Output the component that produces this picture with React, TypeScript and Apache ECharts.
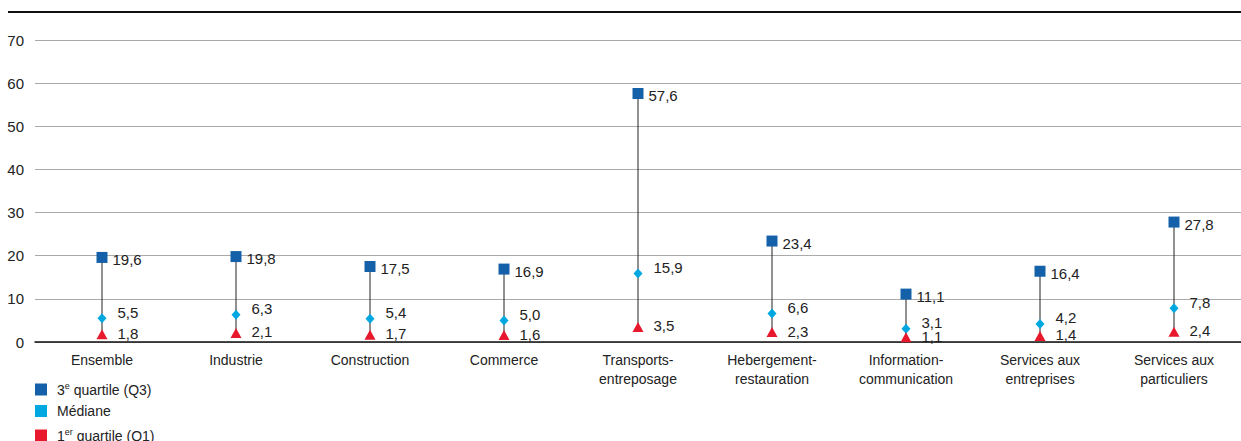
import React, { useEffect, useRef } from "react";
import * as echarts from "echarts";

const categories = [
  "Ensemble",
  "Industrie",
  "Construction",
  "Commerce",
  "Transports-\nentreposage",
  "Hebergement-\nrestauration",
  "Information-\ncommunication",
  "Services aux\nentreprises",
  "Services aux\nparticuliers",
];
const q3Values = [19.6, 19.8, 17.5, 16.9, 57.6, 23.4, 11.1, 16.4, 27.8];
const medianValues = [5.5, 6.3, 5.4, 5.0, 15.9, 6.6, 3.1, 4.2, 7.8];
const q1Values = [1.8, 2.1, 1.7, 1.6, 3.5, 2.3, 1.1, 1.4, 2.4];
const yTicks = [0, 10, 20, 30, 40, 50, 60, 70];

const seriesNames = ["3e quartile (Q3)", "Médiane", "1er quartile (Q1)"];

const FONT = "'Liberation Sans', Arial, sans-serif";
const fmt = (v: number) => v.toFixed(1).replace(".", ",");

export default function App() {
  const ref = useRef<HTMLDivElement>(null);
  useEffect(() => {
    if (!ref.current) return;
    const chart = echarts.init(ref.current, undefined, { renderer: "svg" });
    const labelBase = {
      show: true,
      position: "right" as const,
      fontSize: 15,
      fontFamily: FONT,
      color: "#222",
      formatter: (p: any) => fmt(p.value),
    };
    const legendTextStyle = {
      fontSize: 14,
      fontFamily: FONT,
      color: "#222",
      padding: [0, 0, 0, 5],
      rich: {
        sup: { fontSize: 9, fontFamily: FONT, color: "#222", padding: [0, 0, 8, 0] },
      },
    };
    const legendFormatter = (name: string) => {
      if (name === seriesNames[0]) return "3{sup|e} quartile (Q3)";
      if (name === seriesNames[2]) return "1{sup|er} quartile (Q1)";
      return name;
    };
    const legendTops = [381, 404, 427];
    chart.setOption({
      animation: false,
      textStyle: { fontFamily: FONT },
      grid: { left: 35, right: -2, top: 40, bottom: 99, containLabel: false },
      legend: seriesNames.map((n, i) => ({
        orient: "vertical",
        left: 35,
        top: legendTops[i],
        padding: 0,
        itemWidth: 12,
        itemHeight: 12,
        icon: "rect",
        selectedMode: false,
        data: [n],
        formatter: legendFormatter,
        textStyle: legendTextStyle,
      })),
      graphic: [
        {
          type: "line",
          shape: { x1: 8, y1: 12, x2: 1241, y2: 12 },
          style: { stroke: "#111", lineWidth: 2 },
        },
      ],
      xAxis: {
        type: "category",
        data: categories,
        axisLine: { show: true, lineStyle: { color: "#111", width: 1.5 } },
        axisTick: { show: false },
        axisLabel: {
          fontSize: 14,
          fontFamily: FONT,
          color: "#222",
          lineHeight: 19,
          margin: 8,
          interval: 0,
        },
      },
      yAxis: {
        type: "value",
        min: yTicks[0],
        max: yTicks[yTicks.length - 1],
        interval: 10,
        axisLine: { show: false },
        axisTick: { show: false },
        axisLabel: { fontSize: 15, fontFamily: FONT, color: "#222", margin: 11 },
        splitLine: { lineStyle: { color: "#aaa", width: 1 } },
      },
      series: [
        {
          type: "custom",
          name: "range",
          z: 1,
          silent: true,
          renderItem: (params: any, api: any) => {
            const x = api.value(0);
            const p1 = api.coord([x, api.value(1)]);
            const p2 = api.coord([x, api.value(2)]);
            return {
              type: "line",
              shape: { x1: p1[0], y1: p1[1], x2: p2[0], y2: p2[1] },
              style: { stroke: "#222", lineWidth: 1 },
            };
          },
          encode: { x: 0, y: [1, 2] },
          data: categories.map((_, i) => [i, q1Values[i], q3Values[i]]),
        },
        {
          type: "scatter",
          name: seriesNames[0],
          z: 3,
          symbol: "rect",
          symbolSize: 11,
          itemStyle: { color: "#1561A9", opacity: 1 },
          label: { ...labelBase, distance: 5, offset: [0, 2] },
          data: q3Values,
        },
        {
          type: "scatter",
          name: seriesNames[1],
          z: 3,
          symbol: "diamond",
          symbolSize: [9, 10],
          itemStyle: { color: "#00A8E1", opacity: 1 },
          label: { ...labelBase, distance: 11, offset: [0, -6] },
          data: medianValues,
        },
        {
          type: "scatter",
          name: seriesNames[2],
          z: 3,
          symbol: "triangle",
          symbolSize: [11, 10],
          itemStyle: { color: "#E8192C", opacity: 1 },
          label: { ...labelBase, distance: 10, offset: [0, -1] },
          data: q1Values,
        },
      ],
    });
    return () => chart.dispose();
  }, []);
  return (
    <div
      ref={ref}
      style={{ position: "fixed", left: 0, top: 0, width: 1241, height: 441, background: "#fff" }}
    />
  );
}
